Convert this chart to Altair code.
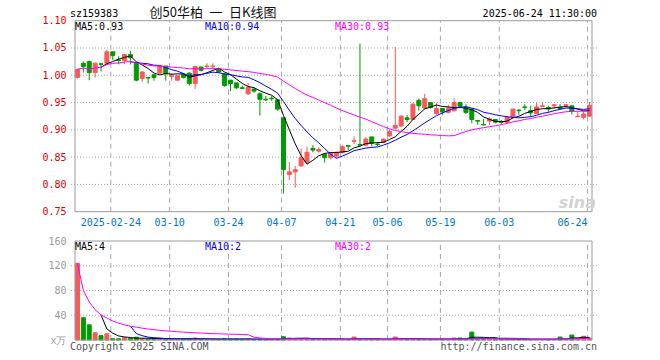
import altair as alt
import pandas as pd

# ---------------- data ----------------
day_index = list(range(88))
open_price = [0.996, 1.022, 1.025, 1.005, 1.021, 1.022, 1.043, 1.028, 1.027, 1.038,
              1.022, 0.994, 0.996, 1.001, 1.004, 1.017, 0.998, 0.991, 1.002, 1.004,
              0.985, 1.015, 1.016, 1.016, 1.012, 1.002, 0.991, 0.986, 0.977, 0.966,
              0.975, 0.966, 0.956, 0.958, 0.955, 0.922, 0.818, 0.823, 0.834, 0.841,
              0.866, 0.861, 0.855, 0.849, 0.852, 0.858, 0.871, 0.879, 0.873, 0.872,
              0.887, 0.874, 0.877, 0.889, 0.903, 0.907, 0.922, 0.919, 0.954, 0.940,
              0.950, 0.930, 0.939, 0.932, 0.935, 0.950, 0.941, 0.938, 0.917, 0.910,
              0.916, 0.919, 0.915, 0.914, 0.923, 0.936, 0.942, 0.935, 0.930, 0.943,
              0.941, 0.944, 0.941, 0.944, 0.944, 0.924, 0.923, 0.925]
high_price = [1.011, 1.025, 1.027, 1.023, 1.023, 1.047, 1.043, 1.035, 1.039, 1.045,
              1.022, 1.007, 0.996, 1.001, 1.018, 1.017, 1.004, 0.999, 1.003, 1.005,
              1.017, 1.016, 1.022, 1.022, 1.013, 1.004, 0.991, 0.986, 0.981, 0.986,
              0.975, 0.969, 0.962, 0.962, 0.957, 0.922, 0.841, 0.834, 0.866, 0.869,
              0.872, 0.868, 0.857, 0.858, 0.860, 0.872, 0.871, 0.888, 1.058, 0.887,
              0.887, 0.878, 0.884, 0.900, 1.052, 0.927, 0.927, 0.949, 0.957, 0.966,
              0.950, 0.949, 0.939, 0.946, 0.958, 0.950, 0.947, 0.939, 0.918, 0.920,
              0.923, 0.919, 0.918, 0.925, 0.939, 0.938, 0.947, 0.944, 0.950, 0.950,
              0.944, 0.947, 0.947, 0.947, 0.945, 0.934, 0.934, 0.951]
low_price = [0.994, 1.005, 0.991, 0.996, 1.007, 1.020, 1.028, 1.020, 1.021, 1.020,
             0.989, 0.988, 0.985, 0.990, 1.003, 0.990, 0.990, 0.990, 0.994, 0.981,
             0.975, 1.007, 1.013, 1.012, 1.005, 0.979, 0.971, 0.975, 0.975, 0.964,
             0.968, 0.926, 0.953, 0.953, 0.935, 0.783, 0.808, 0.794, 0.832, 0.838,
             0.859, 0.858, 0.840, 0.846, 0.849, 0.857, 0.863, 0.874, 0.870, 0.870,
             0.870, 0.870, 0.876, 0.887, 0.902, 0.905, 0.914, 0.918, 0.935, 0.938,
             0.939, 0.928, 0.927, 0.930, 0.934, 0.941, 0.929, 0.912, 0.909, 0.908,
             0.909, 0.912, 0.911, 0.913, 0.922, 0.927, 0.936, 0.924, 0.929, 0.942,
             0.932, 0.939, 0.936, 0.943, 0.928, 0.924, 0.919, 0.924]
close_price = [1.011, 1.016, 1.005, 1.022, 1.020, 1.043, 1.036, 1.027, 1.038, 1.032,
               0.991, 1.006, 0.995, 0.996, 1.016, 1.003, 0.999, 0.999, 0.996, 0.985,
               1.016, 1.009, 1.017, 1.017, 1.006, 0.981, 0.985, 0.977, 0.976, 0.978,
               0.971, 0.956, 0.955, 0.957, 0.938, 0.827, 0.823, 0.827, 0.849, 0.859,
               0.863, 0.864, 0.849, 0.857, 0.859, 0.869, 0.870, 0.880, 0.872, 0.883,
               0.875, 0.873, 0.883, 0.897, 0.908, 0.925, 0.919, 0.947, 0.944, 0.957,
               0.941, 0.939, 0.933, 0.940, 0.950, 0.943, 0.932, 0.919, 0.916, 0.909,
               0.920, 0.914, 0.914, 0.923, 0.938, 0.935, 0.941, 0.931, 0.942, 0.944,
               0.938, 0.946, 0.939, 0.946, 0.934, 0.925, 0.929, 0.945]
volume = [124, 36, 24.5, 11.7, 7, 10, 2, 2, 3.7, 2.5,
          4.5, 2, 1.5, 1.5, 2, 2, 1, 1, 1.5, 2,
          3.2, 1, 1, 1, 1, 2, 1.5, 1.5, 1, 1.5,
          1, 1.5, 1, 1, 1.5, 5.3, 3.2, 2.5, 2, 2,
          1.5, 1, 1, 1, 1, 1.5, 1, 4.8, 1.5, 1,
          1, 1, 1, 1.5, 4.8, 1.5, 1, 1.5, 1.5, 1.5,
          1, 1, 1, 1, 3.2, 3.2, 1.5, 12.8, 2, 1.5,
          1, 1, 1, 1, 1.5, 1, 1, 1, 1, 1,
          1, 1, 4.8, 1.5, 8, 2, 6, 3]

date_tick_index = [6, 16, 26, 35, 45, 53, 62, 72, 87]
date_tick_text = ["2025-02-24", "03-10", "03-24", "04-07", "04-21",
                  "05-06", "05-19", "06-03", "06-24"]
price_ticks = [0.75, 0.80, 0.85, 0.90, 0.95, 1.00, 1.05, 1.10]
volume_ticks = [0, 40, 80, 120, 160]

header_code = "sz159383"
header_title = "创50华柏\u2002一\u2002日K线图"
header_time = "2025-06-24 11:30:00"
price_legend = ["MA5:0.93", "MA10:0.94", "MA30:0.93"]
volume_legend = ["MA5:4", "MA10:2", "MA30:2"]
footer_left = "Copyright 2025 SINA.COM"
footer_right = "http://finance.sina.com.cn"

# ---------------- tables ----------------
df = pd.DataFrame({"i": day_index, "o": open_price, "h": high_price,
                   "l": low_price, "c": close_price, "v": volume})
df["dir"] = ["up" if c >= o else "down" for o, c in zip(open_price, close_price)]

grid_df = pd.DataFrame({"pos": [t - 0.333 for t in date_tick_index],
                        "plo": min(price_ticks), "phi": max(price_ticks),
                        "vlo": min(volume_ticks), "vhi": max(volume_ticks)})
label_df = pd.DataFrame({"pos": [t - 0.333 for t in date_tick_index],
                         "txt": date_tick_text, "base": min(price_ticks)})
pgrid_df = pd.DataFrame({"y": price_ticks[1:-1]})
vgrid_df = pd.DataFrame({"y": volume_ticks[1:-1]})
X_LO, X_HI = -0.4167, 87.42
pframe_df = pd.DataFrame({"x0": [X_LO], "x1": [X_HI],
                          "y0": [min(price_ticks)], "y1": [max(price_ticks)]})
vframe_df = pd.DataFrame({"x0": [X_LO], "x1": [X_HI],
                          "y0": [min(volume_ticks)], "y1": [max(volume_ticks)]})

# ---------------- styles ----------------
MONO = "DejaVu Sans Mono"
CJK = "Noto Sans CJK SC"
RED = "#f65a5a"
GREEN = "#009b00"
GRID = "#a8a8a8"
FRAME = "#9a9a9a"

xs = alt.Scale(domain=[X_LO, X_HI], nice=False, zero=False)
ps = alt.Scale(domain=[0.75, 1.10], range=[191.7, 0.7], nice=False, zero=False)
vs = alt.Scale(domain=[0, 160], range=[320, 221], nice=False, zero=False)
cs = alt.Scale(domain=["up", "down"], range=[RED, GREEN])

price_axis = alt.Axis(values=price_ticks, format=".2f", labelColor="#e00000",
                      labelFont=MONO, labelFontSize=10, labelPadding=4,
                      ticks=False, domain=False, grid=False, title=None, orient="left")
vol_axis = alt.Axis(values=volume_ticks, labelExpr="datum.value == 0 ? 'x万' : datum.label",
                    labelColor="#9a9a9a", labelFont=MONO, labelFontSize=10, labelPadding=4,
                    ticks=False, domain=False, grid=False, title=None, orient="left")

X = alt.X("i:Q", scale=xs, axis=None)


def ma_line(field, n, color, yscale, yaxis, cumulative):
    ch = alt.Chart(df).transform_window(
        ma=f"mean({field})", cnt="count()", frame=[-(n - 1), 0],
        sort=[alt.SortField("i", order="ascending")])
    if not cumulative:
        ch = ch.transform_filter(alt.datum.cnt >= n)
    return ch.mark_line(color=color, strokeWidth=1).encode(
        x=X, y=alt.Y("ma:Q", scale=yscale, axis=yaxis))


# ---------------- price panel ----------------
p_vgrid = alt.Chart(grid_df).mark_rule(color=GRID, strokeDash=[5, 4], strokeWidth=1).encode(
    x=alt.X("pos:Q", scale=xs, axis=None),
    y=alt.Y("plo:Q", scale=ps, axis=price_axis), y2="phi:Q")
p_hgrid = alt.Chart(pgrid_df).mark_rule(color=GRID, strokeDash=[1, 2], strokeWidth=1).encode(
    y=alt.Y("y:Q", scale=ps, axis=price_axis))
wicks = alt.Chart(df).mark_rule(strokeWidth=1).encode(
    x=X, y=alt.Y("l:Q", scale=ps, axis=price_axis), y2="h:Q",
    color=alt.Color("dir:N", scale=cs, legend=None))
bodies = alt.Chart(df).mark_bar(size=4, strokeWidth=1).encode(
    x=X, y=alt.Y("o:Q", scale=ps, axis=price_axis), y2="c:Q",
    color=alt.Color("dir:N", scale=cs, legend=None),
    stroke=alt.Stroke("dir:N", scale=cs, legend=None))
p_ma5 = ma_line("c", 5, "#000000", ps, price_axis, False)
p_ma10 = ma_line("c", 10, "#0000ff", ps, price_axis, False)
p_ma30 = ma_line("c", 30, "#ff00ff", ps, price_axis, True)
p_frame = alt.Chart(pframe_df).mark_rect(fillOpacity=0, stroke=FRAME, strokeWidth=1).encode(
    x=alt.X("x0:Q", scale=xs, axis=None), x2="x1:Q",
    y=alt.Y("y0:Q", scale=ps, axis=price_axis), y2="y1:Q")
date_labels = alt.Chart(label_df.iloc[:-1]).mark_text(
    font=MONO, fontSize=10, color="#0077cc", align="center", baseline="alphabetic", dy=14
).encode(x=alt.X("pos:Q", scale=xs, axis=None),
         y=alt.Y("base:Q", scale=ps, axis=price_axis), text="txt:N")
date_label_last = alt.Chart(label_df.iloc[-1:]).mark_text(
    font=MONO, fontSize=10, color="#0077cc", align="right", baseline="alphabetic", dy=14
).encode(x=alt.X("pos:Q", scale=xs, axis=None),
         y=alt.Y("base:Q", scale=ps, axis=price_axis), text="txt:N")

price_panel = alt.layer(p_vgrid, p_hgrid, wicks, bodies, p_ma5, p_ma10, p_ma30,
                        p_frame, date_labels, date_label_last)

# ---------------- volume panel ----------------
v_vgrid = alt.Chart(grid_df).mark_rule(color=GRID, strokeDash=[5, 4], strokeWidth=1).encode(
    x=alt.X("pos:Q", scale=xs, axis=None),
    y=alt.Y("vlo:Q", scale=vs, axis=vol_axis), y2="vhi:Q")
v_hgrid = alt.Chart(vgrid_df).mark_rule(color=GRID, strokeDash=[1, 2], strokeWidth=1).encode(
    y=alt.Y("y:Q", scale=vs, axis=vol_axis))
vbars = alt.Chart(df).mark_bar(size=4, strokeWidth=1).encode(
    x=X, y=alt.Y("v:Q", scale=vs, axis=vol_axis),
    color=alt.Color("dir:N", scale=cs, legend=None),
    stroke=alt.Stroke("dir:N", scale=cs, legend=None))
v_ma5 = ma_line("v", 5, "#000000", vs, vol_axis, False)
v_ma10 = ma_line("v", 10, "#0000ff", vs, vol_axis, False)
v_ma30 = ma_line("v", 30, "#ff00ff", vs, vol_axis, True)
v_frame = alt.Chart(vframe_df).mark_rect(fillOpacity=0, stroke=FRAME, strokeWidth=1).encode(
    x=alt.X("x0:Q", scale=xs, axis=None), x2="x1:Q",
    y=alt.Y("y0:Q", scale=vs, axis=vol_axis), y2="y1:Q")

volume_panel = alt.layer(v_vgrid, v_hgrid, vbars, v_ma5, v_ma10, v_ma30, v_frame)


# ---------------- annotations ----------------
def note(text, x, y, color="#000000", align="left", font=MONO, size=10, **kw):
    return alt.Chart(pd.DataFrame({"t": [text]})).mark_text(
        font=font, fontSize=size, color=color, align=align, baseline="alphabetic", **kw
    ).encode(x=alt.value(x), y=alt.value(y), text="t:N")


notes = [
    note(header_code, 0, -3),
    note(header_title, 143, -3, color="#111111", align="center", font=CJK, size=13),
    note(header_time, 527, -3, align="right"),
    note(price_legend[0], 5, 9.5, color="#000000"),
    note(price_legend[1], 135, 9.5, color="#0000ff"),
    note(price_legend[2], 265, 9.5, color="#ff00ff"),
    note(volume_legend[0], 5, 230, color="#000000"),
    note(volume_legend[1], 135, 230, color="#0000ff"),
    note(volume_legend[2], 265, 230, color="#ff00ff"),
    note(footer_left, 0, 329.5, color="#555555"),
    note(footer_right, 527, 329.5, color="#555555", align="right"),
    note("sina", 526, 188, color="#d2d2d2", align="right", font="DejaVu Sans", size=16,
         fontStyle="italic", fontWeight="bold"),
]

chart = alt.layer(price_panel, volume_panel, *notes).resolve_scale(
    y="independent"
).properties(
    width=527, height=320,
    padding={"left": 70, "top": 20, "right": 63, "bottom": 20},
    autosize=alt.AutoSizeParams(type="none"),
    background="white",
).configure_view(strokeWidth=0)

chart.save("out.html", embed_options={"renderer": "svg", "actions": False})
